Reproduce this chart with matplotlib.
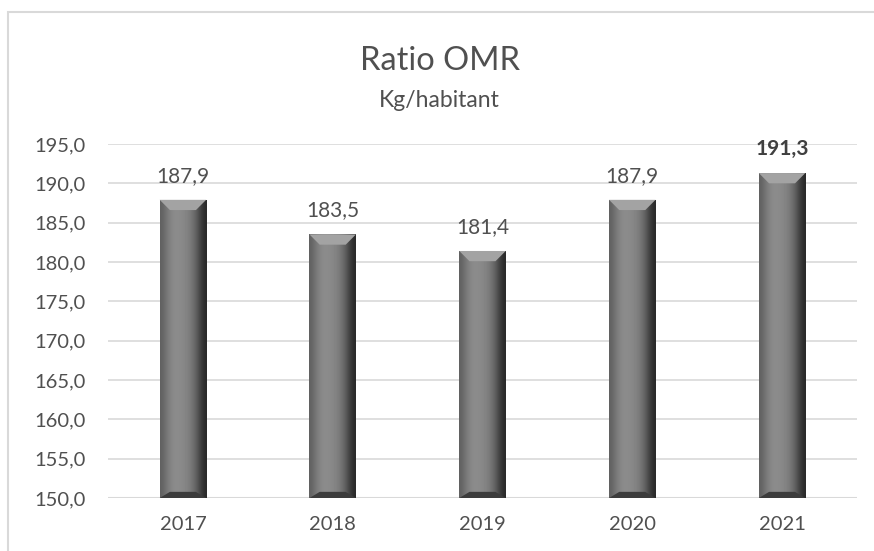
import numpy as np
import matplotlib.pyplot as plt
from matplotlib.patches import Rectangle, Polygon

# Données
years = ['2017', '2018', '2019', '2020', '2021']
ratio = [187.9, 183.5, 181.4, 187.9, 191.3]
yticks = [150, 155, 160, 165, 170, 175, 180, 185, 190, 195]

plt.rcParams['font.family'] = ['Lato', 'DejaVu Sans']
txt = '#505050'

fig = plt.figure(figsize=(8.74, 5.51), dpi=100)
ax = fig.add_axes([0.1236, 0.0962, 0.8569, 0.6425])

# cadre du graphique
fig.patches.append(Rectangle((8 / 874, -0.1), 1.2, 1 - 12 / 551 + 0.1,
                             transform=fig.transFigure, fill=False,
                             edgecolor='#d9d9d9', linewidth=1.5))

x = np.arange(len(years))
w = 0.31
bars = ax.bar(x, ratio, width=w, color='#7f7f7f', zorder=2)

# dégradé horizontal + biseau
grad = np.array([[0.38, 0.47, 0.53, 0.55, 0.54, 0.52, 0.48, 0.40, 0.28, 0.16]])
cmap = plt.get_cmap('gray')
for b in bars:
    x0, x1 = b.get_x(), b.get_x() + b.get_width()
    y0, y1 = 150, b.get_height()
    im = ax.imshow(grad, cmap=cmap, vmin=0, vmax=1, aspect='auto',
                   extent=(x0, x1, y0, y1), zorder=3, interpolation='bicubic')
    im.set_clip_path(b)
    dx = (x1 - x0) * 0.22
    dy = 1.3
    ax.add_patch(Polygon([(x0, y1), (x1, y1), (x1 - dx, y1 - dy), (x0 + dx, y1 - dy)],
                         closed=True, color='#a3a3a3', zorder=4, lw=0))
    ax.add_patch(Polygon([(x0, y0), (x1, y0), (x1 - dx, y0 + dy * 0.6), (x0 + dx, y0 + dy * 0.6)],
                         closed=True, color='#3c3c3c', zorder=4, lw=0))

for i, v in enumerate(ratio):
    lab = f'{v:.1f}'.replace('.', ',')
    ax.annotate(lab, (x[i], v), xytext=(0, 13), textcoords='offset points',
                ha='center', va='baseline', fontsize=15,
                color='#404040' if i == 4 else txt,
                fontweight='bold' if i == 4 else 'normal')

ax.set_ylim(150, 195)
ax.set_xlim(-0.5, len(years) - 0.5)
ax.set_yticks(yticks)
ax.set_yticklabels([f'{t:.1f}'.replace('.', ',') for t in yticks])
ax.set_xticks(x)
ax.set_xticklabels(years)
ax.tick_params(length=0, labelsize=14.5, colors=txt)
ax.tick_params(axis='x', pad=13)
ax.tick_params(axis='y', pad=16)
ax.grid(axis='y', color='#d9d9d9', linewidth=1.2, zorder=0)
for s in ax.spines.values():
    s.set_visible(False)
ax.axhline(150, color='#d9d9d9', linewidth=1.5, zorder=1)

fig.text(0.503, 0.89, 'Ratio OMR', ha='center', va='center', fontsize=23.5, color=txt)
fig.text(0.503, 0.817, 'Kg/habitant', ha='center', va='center', fontsize=16.5, color=txt)

fig.savefig('out.png', dpi=100)
